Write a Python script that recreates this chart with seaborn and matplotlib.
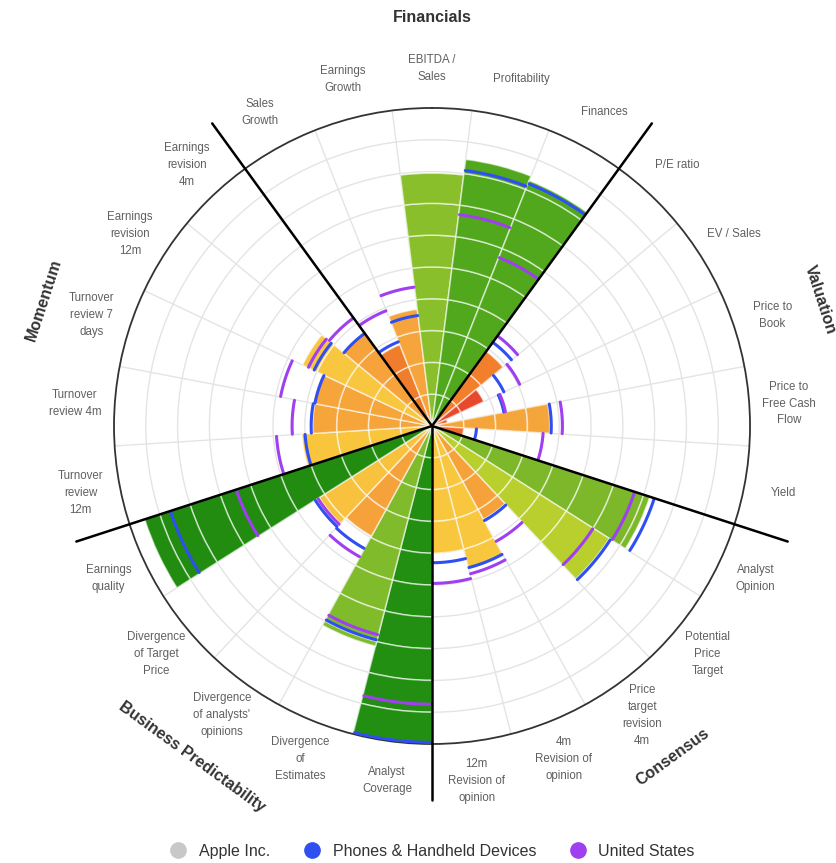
import numpy as np
import pandas as pd
import matplotlib
matplotlib.use('Agg')
import matplotlib.pyplot as plt
from matplotlib.lines import Line2D
import seaborn as sns

# --- data (score 0-10 per criterion) ---
groups = ['Financials', 'Valuation', 'Consensus', 'Business Predictability', 'Momentum']

categories = ['Sales\nGrowth', 'Earnings\nGrowth', 'EBITDA /\nSales', 'Profitability', 'Finances',
              'P/E ratio', 'EV / Sales', 'Price to\nBook', 'Price to\nFree Cash\nFlow', 'Yield',
              'Analyst\nOpinion', 'Potential\nPrice\nTarget', 'Price\ntarget\nrevision\n4m',
              '4m\nRevision of\nopinion', '12m\nRevision of\nopinion',
              'Analyst\nCoverage', 'Divergence\nof\nEstimates', "Divergence\nof analysts'\nopinions",
              'Divergence\nof Target\nPrice', 'Earnings\nquality',
              'Turnover\nreview\n12m', 'Turnover\nreview 4m', 'Turnover\nreview 7\ndays',
              'Earnings\nrevision\n12m', 'Earnings\nrevision\n4m']

apple = [2.75, 3.7, 7.95, 8.45, 8.3,
         2.9, 1.8, 0.5, 3.7, 1.0,
         7.2, 6.6, 3.35, 4.6, 4.0,
         9.95, 7.15, 3.95, 4.2, 9.5,
         4.1, 3.75, 3.8, 4.5, 3.6]

phones = [2.85, 3.5, None, 8.1, 8.2,
          3.25, 2.5, 2.3, 3.75, 1.4,
          7.35, 6.65, 3.4, 4.6, 4.3,
          9.95, 6.95, 4.4, 4.35, 8.65,
          4.0, 3.8, 3.75, 4.1, 3.6]

usa = [3.9, 4.4, None, 6.7, 5.7,
       3.5, 3.05, 2.35, 4.1, 3.5,
       6.7, 6.0, 4.15, 4.8, 4.95,
       8.75, 6.78, 4.7, 4.25, 6.47,
       4.9, 4.4, 4.85, 4.3, 4.2]

# fill colour of each bar (style)
bar_colors = ['#f07d2c', '#f5a53b', '#89bf2b', '#52a81c', '#52a81c',
              '#f27f2b', '#e8482b', '#ec5a2a', '#f5a63a', '#ef6a2b',
              '#7cb82a', '#b8cf2e', '#f5a23a', '#f8c73e', '#f8c73e',
              '#238f12', '#80bb2c', '#f5a23a', '#f8c23e', '#218c10',
              '#f8c53d', '#f5a53a', '#f5a53a', '#f8c63f', '#f5a33a']

series_colors = {'Apple Inc.': '#c8c8c8',
                 'Phones & Handheld Devices': '#2f4ff2',
                 'United States': '#a03ff0'}

sns.set_theme(style='white')
plt.rcParams['font.family'] = ['Liberation Sans', 'DejaVu Sans']

n = len(categories)
w = 2 * np.pi / n
theta = (np.radians(-28.8) + w * np.arange(n)) % (2 * np.pi)

fig = plt.figure(figsize=(8.37, 8.63), dpi=100)
ax = fig.add_axes([0.1362, 0.1379, 0.7599, 0.737], projection='polar')
ax.set_theta_zero_location('N')
ax.set_theta_direction(-1)

# stacked unit segments so the light rings show on the bars
for i, v in enumerate(apple):
    k = 0
    while k < v:
        h = min(1, v - k)
        ax.bar(theta[i], h, bottom=k, width=w, color=bar_colors[i],
               edgecolor=(1, 1, 1, 0.6), linewidth=1.1, zorder=2)
        k += 1

# comparison arcs
rows = []
for i in range(n):
    for name, vals in (('Phones & Handheld Devices', phones), ('United States', usa)):
        if vals[i] is None:
            continue
        for t in np.linspace(theta[i] - w / 2 + 0.004, theta[i] + w / 2 - 0.004, 25):
            rows.append({'cat': i, 'series': name, 'theta': t, 'r': vals[i]})
arcs = pd.DataFrame(rows)
sns.lineplot(data=arcs, x='theta', y='r', hue='series', units='cat', estimator=None,
             sort=False, palette=series_colors, linewidth=2.2, legend=False, ax=ax, zorder=4)

# group dividers
for k in range(5):
    a = np.radians(-36 + 72 * k) % (2 * np.pi)
    ax.plot([a, a], [0, 11.76], color='black', lw=1.8, clip_on=False, zorder=6)

ax.set_xlim(0, 2 * np.pi)
ax.set_ylim(0, 10)
ax.set_rticks(range(1, 10))
ax.set_yticklabels([])
ax.set_xticks((theta + w / 2) % (2 * np.pi))
ax.set_xticklabels([])
ax.grid(True, color='#e4e4e4', lw=1)
ax.set_axisbelow(True)
ax.spines['polar'].set_color('#333333')
ax.spines['polar'].set_linewidth(1.3)
ax.set_xlabel('')
ax.set_ylabel('')

for i, lab in enumerate(categories):
    ax.text(theta[i], 11.25, lab, ha='center', va='center', fontsize=8.3,
            color='#606060', linespacing=1.55, clip_on=False)

for k, g in enumerate(groups):
    deg = 72 * k
    rot = -deg
    if 90 < deg < 270:
        rot += 180
    ax.text(np.radians(deg), 12.85, g, ha='center', va='center', fontsize=11.5,
            fontweight='bold', color='#333333', rotation=rot,
            rotation_mode='anchor', clip_on=False)

handles = [Line2D([0], [0], marker='o', ls='', markersize=11, markerfacecolor=c,
                  markeredgecolor=c, label=name) for name, c in series_colors.items()]
fig.legend(handles=handles, loc='center', bbox_to_anchor=(0.512, 1 - 851 / 863), ncol=3,
           frameon=False, fontsize=11.5, handletextpad=0.3, columnspacing=1.6,
           labelcolor='#333333')

fig.savefig('out.png', dpi=100)
